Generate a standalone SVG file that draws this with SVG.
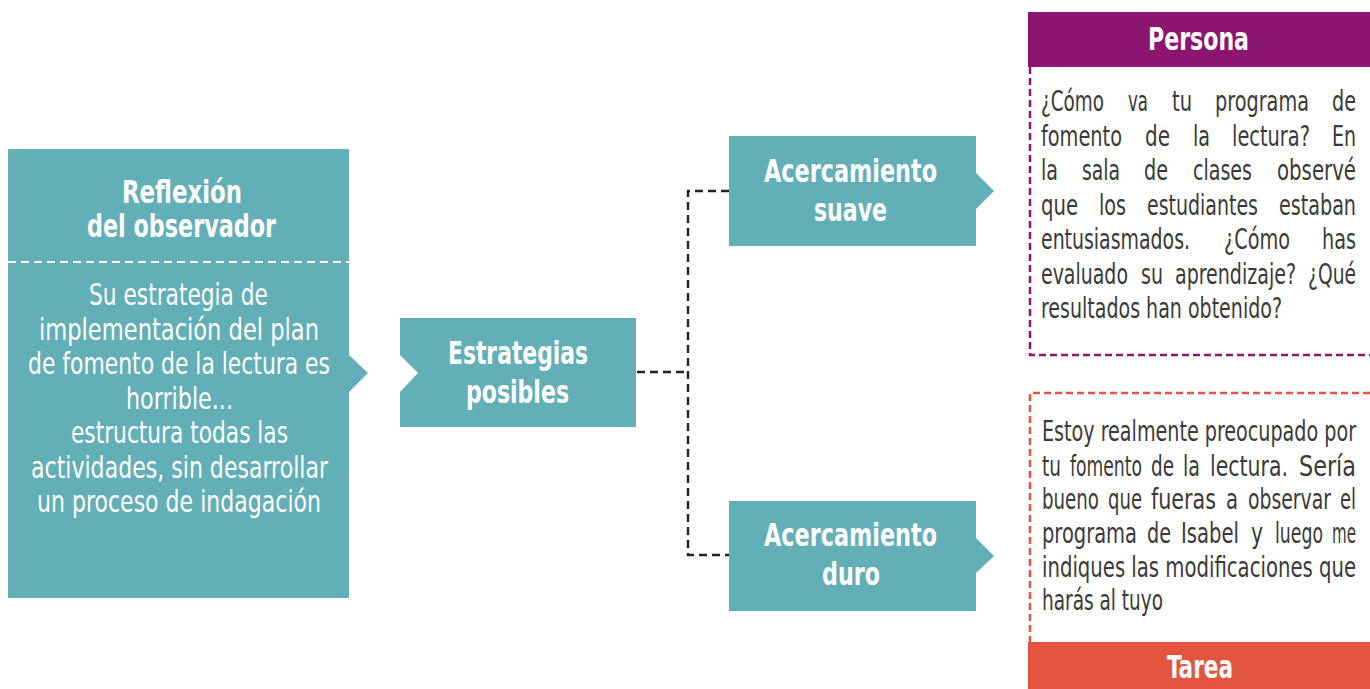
<svg xmlns="http://www.w3.org/2000/svg" width="1370" height="689" viewBox="0 0 1370 689">
<style>
.teal{fill:#63afb7}
.t{font-family:"Liberation Sans Narrow","DejaVu Sans Condensed","Liberation Sans",sans-serif}
.ttl{font-size:32px;font-weight:bold;fill:#fff}
.wb{font-size:31px;fill:#fff}
.bd{font-size:28px;fill:#3a3a3a}
.conn{fill:none;stroke:#222;stroke-width:2.4;stroke-dasharray:8 5}
</style>
<rect width="1370" height="689" fill="#fff"/>
<g id="reflexion">
<polygon class="teal" points="8,149 349,149 349,355 368,373 349,392 349,598 8,598"/>
<line x1="8" y1="262" x2="349" y2="262" stroke="#fff" stroke-width="2" stroke-dasharray="8 5"/>
<text class="t ttl"><tspan x="122" y="203" textLength="120" lengthAdjust="spacingAndGlyphs">Reflexión</tspan><tspan x="87" y="237" textLength="189" lengthAdjust="spacingAndGlyphs">del observador</tspan></text>
<text class="t wb"><tspan x="89" y="305" textLength="179" lengthAdjust="spacingAndGlyphs">Su estrategia de</tspan><tspan x="39" y="339.5" textLength="280" lengthAdjust="spacingAndGlyphs">implementación del plan</tspan><tspan x="28" y="374" textLength="302" lengthAdjust="spacingAndGlyphs">de fomento de la lectura es</tspan><tspan x="126" y="408.5" textLength="107" lengthAdjust="spacingAndGlyphs">horrible...</tspan><tspan x="71" y="443" textLength="217" lengthAdjust="spacingAndGlyphs">estructura todas las</tspan><tspan x="31" y="477.5" textLength="297" lengthAdjust="spacingAndGlyphs">actividades, sin desarrollar</tspan><tspan x="37" y="512" textLength="284" lengthAdjust="spacingAndGlyphs">un proceso de indagación</tspan></text>
</g>
<g id="estrategias">
<polygon class="teal" points="400,318 636,318 636,427 400,427 400,392 418,373 400,355"/>
<text class="t ttl"><tspan x="448" y="364" textLength="140" lengthAdjust="spacingAndGlyphs">Estrategias</tspan><tspan x="466" y="403" textLength="103" lengthAdjust="spacingAndGlyphs">posibles</tspan></text>
</g>
<g id="suave">
<polygon class="teal" points="729,136 976,136 976,173 994,191 976,209 976,246 729,246"/>
<text class="t ttl"><tspan x="764" y="182" textLength="173" lengthAdjust="spacingAndGlyphs">Acercamiento</tspan><tspan x="814" y="221" textLength="73" lengthAdjust="spacingAndGlyphs">suave</tspan></text>
</g>
<g id="duro">
<polygon class="teal" points="729,501 976,501 976,538 994,556 976,573 976,611 729,611"/>
<text class="t ttl"><tspan x="764" y="546" textLength="173" lengthAdjust="spacingAndGlyphs">Acercamiento</tspan><tspan x="822" y="585" textLength="58" lengthAdjust="spacingAndGlyphs">duro</tspan></text>
</g>
<g id="connectors">
<path class="conn" d="M637,372 H688"/>
<path class="conn" d="M729,191 H688 V555 H729"/>
</g>
<g id="persona">
<rect x="1028" y="12" width="342" height="55" fill="#8b1570"/>
<text class="t ttl" x="1148" y="50" textLength="101" lengthAdjust="spacingAndGlyphs">Persona</text>
<path d="M1030,67 V355 H1370" fill="none" stroke="#8b1570" stroke-width="2.5" stroke-dasharray="7 4"/>
<text class="t bd">
<tspan x="1041" y="111" textLength="63" lengthAdjust="spacingAndGlyphs">¿Cómo</tspan><tspan x="1128" y="111" textLength="20" lengthAdjust="spacingAndGlyphs">va</tspan><tspan x="1172" y="111" textLength="20" lengthAdjust="spacingAndGlyphs">tu</tspan><tspan x="1215" y="111" textLength="94" lengthAdjust="spacingAndGlyphs">programa</tspan><tspan x="1332" y="111" textLength="24" lengthAdjust="spacingAndGlyphs">de</tspan>
<tspan x="1041" y="146" textLength="81" lengthAdjust="spacingAndGlyphs">fomento</tspan><tspan x="1145" y="146" textLength="25" lengthAdjust="spacingAndGlyphs">de</tspan><tspan x="1193" y="146" textLength="17" lengthAdjust="spacingAndGlyphs">la</tspan><tspan x="1232" y="146" textLength="78" lengthAdjust="spacingAndGlyphs">lectura?</tspan><tspan x="1332" y="146" textLength="24" lengthAdjust="spacingAndGlyphs">En</tspan>
<tspan x="1041" y="180" textLength="17" lengthAdjust="spacingAndGlyphs">la</tspan><tspan x="1082" y="180" textLength="38" lengthAdjust="spacingAndGlyphs">sala</tspan><tspan x="1144" y="180" textLength="24" lengthAdjust="spacingAndGlyphs">de</tspan><tspan x="1193" y="180" textLength="59" lengthAdjust="spacingAndGlyphs">clases</tspan><tspan x="1277" y="180" textLength="79" lengthAdjust="spacingAndGlyphs">observé</tspan>
<tspan x="1041" y="215" textLength="37" lengthAdjust="spacingAndGlyphs">que</tspan><tspan x="1099" y="215" textLength="27" lengthAdjust="spacingAndGlyphs">los</tspan><tspan x="1147" y="215" textLength="111" lengthAdjust="spacingAndGlyphs">estudiantes</tspan><tspan x="1279" y="215" textLength="77" lengthAdjust="spacingAndGlyphs">estaban</tspan>
<tspan x="1041" y="249" textLength="149" lengthAdjust="spacingAndGlyphs">entusiasmados.</tspan><tspan x="1224" y="249" textLength="66" lengthAdjust="spacingAndGlyphs">¿Cómo</tspan><tspan x="1322" y="249" textLength="34" lengthAdjust="spacingAndGlyphs">has</tspan>
<tspan x="1041" y="284" textLength="87" lengthAdjust="spacingAndGlyphs">evaluado</tspan><tspan x="1141" y="284" textLength="22" lengthAdjust="spacingAndGlyphs">su</tspan><tspan x="1175" y="284" textLength="121" lengthAdjust="spacingAndGlyphs">aprendizaje?</tspan><tspan x="1308" y="284" textLength="48" lengthAdjust="spacingAndGlyphs">¿Qué</tspan>
<tspan x="1041" y="318" textLength="241" lengthAdjust="spacingAndGlyphs">resultados han obtenido?</tspan>
</text>
</g>
<g id="tarea">
<path d="M1370,393 H1030 V642" fill="none" stroke="#e4553f" stroke-width="2.5" stroke-dasharray="7 4"/>
<rect x="1028" y="642" width="342" height="47" fill="#e4553f"/>
<text class="t ttl" x="1167" y="678" textLength="66" lengthAdjust="spacingAndGlyphs">Tarea</text>
<text class="t bd">
<tspan x="1042" y="441" textLength="314" lengthAdjust="spacingAndGlyphs">Estoy realmente preocupado por</tspan>
<tspan x="1042" y="476" textLength="19" lengthAdjust="spacingAndGlyphs">tu</tspan><tspan x="1070" y="476" textLength="72" lengthAdjust="spacingAndGlyphs">fomento</tspan><tspan x="1151" y="476" textLength="23" lengthAdjust="spacingAndGlyphs">de</tspan><tspan x="1183" y="476" textLength="17" lengthAdjust="spacingAndGlyphs">la</tspan><tspan x="1210" y="476" textLength="78" lengthAdjust="spacingAndGlyphs">lectura.</tspan><tspan x="1299" y="476" textLength="57" lengthAdjust="spacingAndGlyphs">Sería</tspan>
<tspan x="1042" y="509" textLength="57" lengthAdjust="spacingAndGlyphs">bueno</tspan><tspan x="1108" y="509" textLength="34" lengthAdjust="spacingAndGlyphs">que</tspan><tspan x="1151" y="509" textLength="65" lengthAdjust="spacingAndGlyphs">fueras</tspan><tspan x="1226" y="509" textLength="12" lengthAdjust="spacingAndGlyphs">a</tspan><tspan x="1248" y="509" textLength="83" lengthAdjust="spacingAndGlyphs">observar</tspan><tspan x="1340" y="509" textLength="16" lengthAdjust="spacingAndGlyphs">el</tspan>
<tspan x="1042" y="543" textLength="95" lengthAdjust="spacingAndGlyphs">programa</tspan><tspan x="1147" y="543" textLength="24" lengthAdjust="spacingAndGlyphs">de</tspan><tspan x="1181" y="543" textLength="58" lengthAdjust="spacingAndGlyphs">Isabel</tspan><tspan x="1251" y="543" textLength="12" lengthAdjust="spacingAndGlyphs">y</tspan><tspan x="1275" y="543" textLength="48" lengthAdjust="spacingAndGlyphs">luego</tspan><tspan x="1332" y="543" textLength="24" lengthAdjust="spacingAndGlyphs">me</tspan>
<tspan x="1042" y="577" textLength="314" lengthAdjust="spacingAndGlyphs">indiques las modificaciones que</tspan>
<tspan x="1042" y="610" textLength="121" lengthAdjust="spacingAndGlyphs">harás al tuyo</tspan>
</text>
</g>
</svg>
